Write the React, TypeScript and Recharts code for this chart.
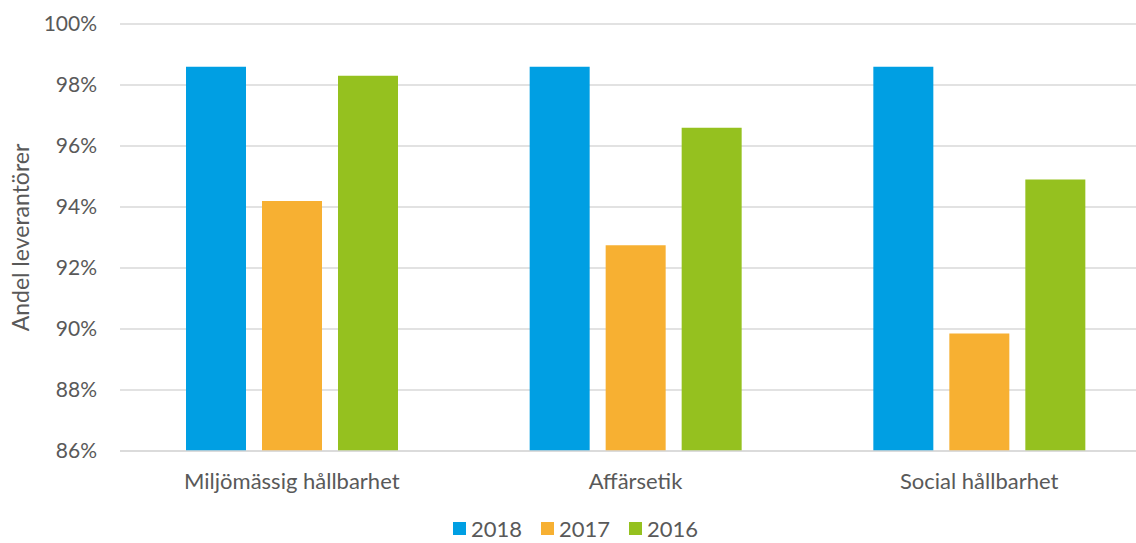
import { BarChart, Bar, XAxis, YAxis, CartesianGrid, Legend } from 'recharts'

const categories = ['Miljömässig hållbarhet', 'Affärsetik', 'Social hållbarhet']
const series2018 = [98.6, 98.6, 98.6]
const series2017 = [94.2, 92.75, 89.85]
const series2016 = [98.3, 96.6, 94.9]
const yTicks = [86, 88, 90, 92, 94, 96, 98, 100]

const seriesMeta = [
  { key: 'y2018', name: '2018', color: '#009FE3' },
  { key: 'y2017', name: '2017', color: '#F7B032' },
  { key: 'y2016', name: '2016', color: '#95C11F' },
]

const data = categories.map((c, i) => ({
  category: c,
  y2018: series2018[i],
  y2017: series2017[i],
  y2016: series2016[i],
}))

const FONT = 'Lato, sans-serif'
const TEXT = '#595959'

function LegendContent() {
  return (
    <div style={{ display: 'flex', justifyContent: 'center', gap: 19, fontFamily: FONT, fontSize: 22, color: TEXT, paddingTop: 14 }}>
      {seriesMeta.map((s) => (
        <span key={s.key} style={{ display: 'flex', alignItems: 'center' }}>
          <span style={{ width: 13, height: 13, background: s.color, display: 'inline-block', marginRight: 5 }} />
          {s.name}
        </span>
      ))}
    </div>
  )
}

export default function App() {
  return (
    <div style={{ position: 'fixed', left: 0, top: 0, width: 1136, height: 543, overflow: 'hidden', background: '#fff' }}>
      <BarChart width={1151} height={543} data={data} margin={{ top: 24, right: 0, bottom: 0, left: 0 }} barSize={60} barGap={16}>
        <CartesianGrid vertical={false} stroke="#D9D9D9" strokeWidth={1.5} />
        <XAxis
          dataKey="category"
          height={50}
          axisLine={{ stroke: '#D9D9D9', strokeWidth: 1.5 }}
          tickLine={false}
          tick={{ fontSize: 22, fill: TEXT, fontFamily: FONT }}
          tickMargin={16}
        />
        <YAxis
          width={120}
          domain={[86, 100]}
          ticks={yTicks}
          tickFormatter={(v) => `${v}%`}
          axisLine={false}
          tickLine={false}
          tickMargin={17}
          tick={{ fontSize: 21, fill: TEXT, fontFamily: FONT }}
          label={{ value: 'Andel leverantörer', angle: -90, position: 'insideLeft', offset: 21, style: { fontSize: 23, fill: TEXT, fontFamily: FONT, textAnchor: 'middle' } }}
        />
        <Legend verticalAlign="bottom" height={42} content={<LegendContent />} />
        {seriesMeta.map((s) => (
          <Bar key={s.key} dataKey={s.key} name={s.name} fill={s.color} isAnimationActive={false} />
        ))}
      </BarChart>
    </div>
  )
}
